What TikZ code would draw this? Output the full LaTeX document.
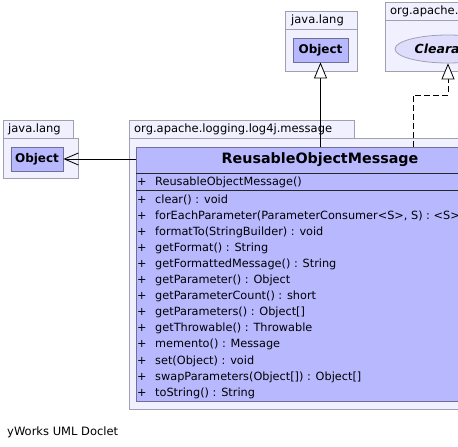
\documentclass[tikz,border=0pt]{standalone}
\usepackage{fontspec}
\setmainfont{DejaVu Sans}
\usetikzlibrary{arrows.meta,shapes.geometric}
\definecolor{pkgfill}{RGB}{240,240,255}
\definecolor{pkgline}{RGB}{160,160,176}
\definecolor{clsfill}{RGB}{184,184,255}
\definecolor{clsline}{RGB}{110,110,150}
\definecolor{ifcfill}{RGB}{222,222,252}
\tikzset{
  pkg/.style={draw=pkgline, fill=pkgfill, line width=0.8pt, rectangle, inner sep=0pt, anchor=north west},
  pkgtext/.style={font=\fontsize{11.5}{14}\selectfont, anchor=west, inner sep=0pt},
  objbox/.style={draw=clsline, fill=clsfill, line width=0.8pt, rectangle, inner sep=0pt, font=\bfseries\fontsize{12}{14}\selectfont},
  clsbox/.style={draw=clsline, fill=clsfill, line width=0.8pt, rectangle, inner sep=0pt, anchor=north west},
  mtext/.style={font=\fontsize{11.3}{14}\selectfont, anchor=west, inner sep=0pt, text height=9pt, text depth=2.5pt},
  gen/.style={-{Triangle[open, length=16pt, width=13pt, fill=white]}, line width=0.8pt},
  real/.style={-{Triangle[open, length=16pt, width=13pt, fill=white]}, line width=0.8pt, dash pattern=on 6pt off 3pt},
  assoc/.style={-{Straight Barb[length=14pt, width=12pt]}, line width=0.8pt},
}
\newcommand{\vis}{\makebox[18pt][l]{+}}
\begin{document}
\begin{tikzpicture}[x=1pt,y=-1pt]
\useasboundingbox (0,0) rectangle (458,447);
\clip (0,0) rectangle (458,447);
\fill[white] (0,0) rectangle (458,447);

% package java.lang (top)
\node[pkg, minimum width=72pt, minimum height=18pt] (pkgAtab) at (285,11) {};
\node[pkg, minimum width=72pt, minimum height=42pt] (pkgA) at (285,29) {};
\node[pkgtext] (pkgAlbl) at (291,20) {java.lang};
\node[objbox, minimum width=55pt, minimum height=24pt] (objA) at (320.5,50) {Object};

% package org.apache... (top right)
\node[pkg, minimum width=200pt, minimum height=18pt] (pkgBtab) at (385,2) {};
\node[pkg, minimum width=200pt, minimum height=51pt] (pkgB) at (385,20) {};
\node[pkgtext] (pkgBlbl) at (390,11) {org.apache.logging.log4j.util};
\node[draw=pkgline, fill=ifcfill, line width=0.8pt, ellipse, minimum width=106pt, minimum height=28pt, inner sep=0pt,
      font=\bfseries\itshape\fontsize{12.5}{14}\selectfont] (clr) at (448,49) {Clearable};

% package java.lang (left)
\node[pkg, minimum width=70pt, minimum height=18pt] (pkgCtab) at (3,120) {};
\node[pkg, minimum width=75pt, minimum height=40pt] (pkgC) at (3,138) {};
\node[pkgtext] (pkgClbl) at (8,129) {java.lang};
\node[objbox, minimum width=52pt, minimum height=24pt] (objC) at (37,159) {Object};

% package org.apache.logging.log4j.message
\node[pkg, minimum width=225pt, minimum height=18pt] (pkgDtab) at (129,120) {};
\node[pkg, minimum width=400pt, minimum height=271pt] (pkgD) at (129,138) {};
\node[pkgtext] (pkgDlbl) at (134,129) {org.apache.logging.log4j.message};

% class
\node[clsbox, minimum width=368pt, minimum height=254pt] (cls) at (136,147) {};
\node[font=\bfseries\fontsize{14.3}{16}\selectfont, inner sep=0pt] (clsname) at (320,160) {ReusableObjectMessage};
\draw[line width=0.8pt, black!85] (cls.north west) ++(0,26) coordinate (s1) -- (s1 -| cls.east);
\draw[line width=0.8pt, black!85] (cls.north west) ++(0,43) coordinate (s2) -- (s2 -| cls.east);
\node[mtext] (ctor) at (137,182) {\vis ReusableObjectMessage()};
\foreach \t [count=\i] in {
  {clear() : void},
  {forEachParameter(ParameterConsumer<S>, S) : <S>},
  {formatTo(StringBuilder) : void},
  {getFormat() : String},
  {getFormattedMessage() : String},
  {getParameter() : Object},
  {getParameterCount() : short},
  {getParameters() : Object[]},
  {getThrowable() : Throwable},
  {memento() : Message},
  {set(Object) : void},
  {swapParameters(Object[]) : Object[]},
  {toString() : String}}
  \node[mtext] (m\i) at (137,{200+16.08*(\i-1)}) {\vis\t};

% connectors
\draw[gen] (cls.north -| objA.south) -- (objA.south);
\coordinate (rstart) at (413,147);
\coordinate (rbend) at (413,95);
\draw[real] (rstart) -- (rbend) -| (clr.south);
\draw[assoc] (objC.east -| cls.west) -- (objC.east);

% footer
\node[pkgtext] (footer) at (7,432) {yWorks UML Doclet};
\end{tikzpicture}
\end{document}
